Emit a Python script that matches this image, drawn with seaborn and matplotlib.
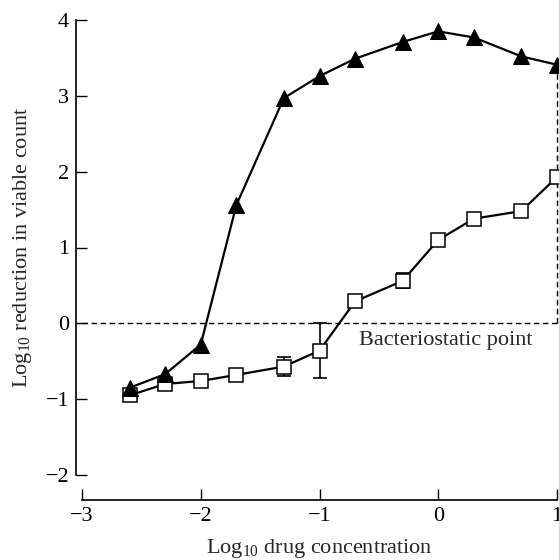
import matplotlib
matplotlib.use("Agg")
import matplotlib.pyplot as plt
import seaborn as sns
import pandas as pd
import numpy as np

# Data
conc = [-2.6, -2.3, -2.0, -1.7, -1.3, -1.0, -0.7, -0.3, 0.0, 0.3, 0.7, 1.0]
tri_vals = [-0.85, -0.67, -0.28, 1.56, 2.97, 3.26, 3.49, 3.71, 3.85, 3.77, 3.52, 3.41]
sq_vals = [-0.95, -0.80, -0.76, -0.68, -0.57, -0.36, 0.29, 0.56, 1.10, 1.38, 1.48, 1.93]
sq_err = [0.03, 0.03, 0.04, 0.03, 0.13, 0.36, 0.05, 0.10, 0.03, 0.07, 0.03, 0.07]
xticks = [-3, -2, -1, 0, 1]
yticks = [-2, -1, 0, 1, 2, 3, 4]
annot_text = "Bacteriostatic point"

sns.set_theme(style="ticks")
plt.rcParams['font.family'] = ['Liberation Serif', 'DejaVu Serif']
plt.rcParams['mathtext.default'] = 'regular'

df_tri = pd.DataFrame({"x": conc, "y": tri_vals})
df_sq = pd.DataFrame({"x": conc, "y": sq_vals})

fig = plt.figure(figsize=(5.59, 5.60), dpi=100)
W, H = 559, 560
ax = fig.add_axes([82 / W, 1 - 475 / H, (557 - 82) / W, (475 - 20) / H])

# reference lines
ax.plot([-3, 1], [0, 0], ls=(0, (4, 2.5)), color="black", lw=1.0, zorder=1, clip_on=False)
ax.plot([1, 1], [0, tri_vals[-1]], ls=(0, (4, 2.5)), color="black", lw=1.0, zorder=1, clip_on=False)

# error bars for squares
ax.errorbar(conc, sq_vals, yerr=sq_err, fmt="none", ecolor="black",
            elinewidth=1.2, capsize=5, capthick=1.2, zorder=2, clip_on=False)

sns.lineplot(data=df_sq, x="x", y="y", ax=ax, color="black", lw=1.6,
             marker="s", markersize=9.5, markerfacecolor="white",
             markeredgecolor="black", markeredgewidth=1.1, clip_on=False, zorder=3)
sns.lineplot(data=df_tri, x="x", y="y", ax=ax, color="black", lw=1.6,
             marker="^", markersize=11, markerfacecolor="black",
             markeredgecolor="black", clip_on=False, zorder=4)

ax.text(-0.67, -0.23, annot_text, fontsize=16, ha="left", va="center")

ax.set_xlim(-3, 1)
ax.set_ylim(-2, 4)
ax.set_xticks(xticks)
ax.set_yticks(yticks)
ax.set_xticklabels([f"{t}".replace("-", "\u2212") for t in xticks])
ax.set_yticklabels([f"{t}".replace("-", "\u2212") for t in yticks])
ax.tick_params(direction="in", length=8, width=1.0, labelsize=16, colors="black", pad=5)
ax.set_xlabel("Log$_{10}$ drug concentration", fontsize=16, labelpad=8)
ax.set_ylabel("Log$_{10}$ reduction in viable count", fontsize=16, labelpad=8)

sns.despine(ax=ax)
ax.spines["left"].set_position(("outward", 4.3))
ax.spines["bottom"].set_position(("outward", 18))
for s in ["left", "bottom"]:
    ax.spines[s].set_linewidth(1.2)
    ax.spines[s].set_color("black")

fig.savefig("out.png", dpi=100)
